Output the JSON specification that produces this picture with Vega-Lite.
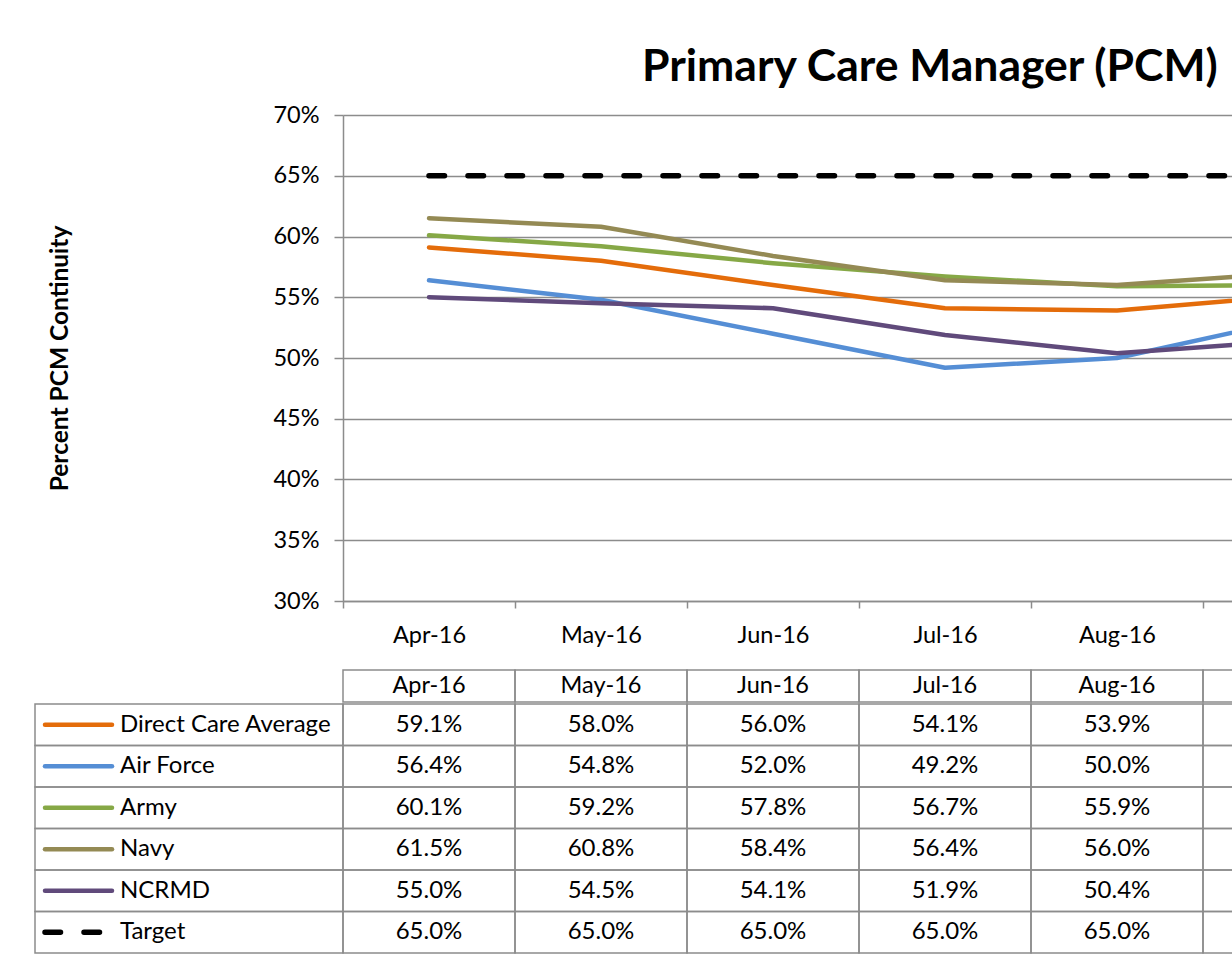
{
  "$schema": "https://vega.github.io/schema/vega-lite/v6.json",
  "background": "white",
  "padding": {"left": 34, "top": 44, "right": 10, "bottom": 10},
  "title": {"text": "Primary Care Manager (PCM)", "anchor": "start", "dx": 608, "fontSize": 44.5, "font": "Lato", "fontWeight": "bold", "color": "black", "offset": 13},
  "config": {"view": {"stroke": null}, "font": "Lato", "text": {"font": "Lato", "color": "black"}},
  "datasets": {
    "months": [{"month": "Apr-16"}, {"month": "May-16"}, {"month": "Jun-16"}, {"month": "Jul-16"}, {"month": "Aug-16"}, {"month": "Sep-16"}],
    "pcm": [
      {"series": "Direct Care Average", "month": "Apr-16", "value": 0.591},
      {"series": "Direct Care Average", "month": "May-16", "value": 0.580},
      {"series": "Direct Care Average", "month": "Jun-16", "value": 0.560},
      {"series": "Direct Care Average", "month": "Jul-16", "value": 0.541},
      {"series": "Direct Care Average", "month": "Aug-16", "value": 0.539},
      {"series": "Direct Care Average", "month": "Sep-16", "value": 0.551},
      {"series": "Air Force", "month": "Apr-16", "value": 0.564},
      {"series": "Air Force", "month": "May-16", "value": 0.548},
      {"series": "Air Force", "month": "Jun-16", "value": 0.520},
      {"series": "Air Force", "month": "Jul-16", "value": 0.492},
      {"series": "Air Force", "month": "Aug-16", "value": 0.500},
      {"series": "Air Force", "month": "Sep-16", "value": 0.531},
      {"series": "Army", "month": "Apr-16", "value": 0.601},
      {"series": "Army", "month": "May-16", "value": 0.592},
      {"series": "Army", "month": "Jun-16", "value": 0.578},
      {"series": "Army", "month": "Jul-16", "value": 0.567},
      {"series": "Army", "month": "Aug-16", "value": 0.559},
      {"series": "Army", "month": "Sep-16", "value": 0.560},
      {"series": "Navy", "month": "Apr-16", "value": 0.615},
      {"series": "Navy", "month": "May-16", "value": 0.608},
      {"series": "Navy", "month": "Jun-16", "value": 0.584},
      {"series": "Navy", "month": "Jul-16", "value": 0.564},
      {"series": "Navy", "month": "Aug-16", "value": 0.560},
      {"series": "Navy", "month": "Sep-16", "value": 0.570},
      {"series": "NCRMD", "month": "Apr-16", "value": 0.550},
      {"series": "NCRMD", "month": "May-16", "value": 0.545},
      {"series": "NCRMD", "month": "Jun-16", "value": 0.541},
      {"series": "NCRMD", "month": "Jul-16", "value": 0.519},
      {"series": "NCRMD", "month": "Aug-16", "value": 0.504},
      {"series": "NCRMD", "month": "Sep-16", "value": 0.514},
      {"series": "Target", "month": "Apr-16", "value": 0.65},
      {"series": "Target", "month": "May-16", "value": 0.65},
      {"series": "Target", "month": "Jun-16", "value": 0.65},
      {"series": "Target", "month": "Jul-16", "value": 0.65},
      {"series": "Target", "month": "Aug-16", "value": 0.65},
      {"series": "Target", "month": "Sep-16", "value": 0.65}
    ]
  },
  "spacing": 22,
  "bounds": "full",
  "vconcat": [
    {
      "spacing": 0,
      "bounds": "flush",
      "hconcat": [
        {"width": 308, "height": 486, "data": {"values": []}, "mark": "point"},
        {
          "width": 1032,
          "height": 486,
          "data": {"name": "pcm"},
          "encoding": {
            "x": {"field": "month", "type": "ordinal", "sort": ["Apr-16", "May-16", "Jun-16", "Jul-16", "Aug-16", "Sep-16"],
              "scale": {"type": "band", "paddingInner": 0, "paddingOuter": 0},
              "axis": {"title": null, "tickBand": "extent", "tickSize": 7, "tickColor": "#8c8c8c", "tickWidth": 1.5, "domainColor": "#8c8c8c", "domainWidth": 1.5, "labelFontSize": 23.5, "labelColor": "black", "labelPadding": 15, "labelAngle": 0, "grid": false, "labelFont": "Lato"}},
            "y": {"field": "value", "type": "quantitative", "scale": {"domain": [0.3, 0.7]},
              "axis": {"title": "Percent PCM Continuity", "titleFontSize": 24.5, "titleFont": "Lato", "titleFontWeight": "bold", "titleColor": "black", "titlePadding": 200,
                "values": [0.3, 0.35, 0.4, 0.45, 0.5, 0.55, 0.6, 0.65, 0.7], "format": ".0%", "grid": true, "gridColor": "#8c8c8c", "gridWidth": 1.5,
                "tickSize": 9, "tickColor": "#8c8c8c", "tickWidth": 1.5, "domainColor": "#8c8c8c", "domainWidth": 1.5, "labelFontSize": 23.5, "labelFont": "Lato", "labelColor": "black", "labelPadding": 15}}
          },
          "layer": [
            {
              "transform": [{"filter": "datum.series !== 'Target'"}],
              "mark": {"type": "line", "strokeWidth": 4.5, "strokeCap": "round", "strokeJoin": "round"},
              "encoding": {
                "color": {"field": "series", "type": "nominal", "legend": null,
                  "scale": {"domain": ["Direct Care Average", "Air Force", "Army", "Navy", "NCRMD"], "range": ["#E46C0A", "#558ED5", "#86A846", "#948A54", "#604A7B"]}}
              }
            },
            {
              "transform": [{"filter": "datum.series === 'Target'"}],
              "mark": {"type": "line", "strokeWidth": 5.5, "strokeCap": "round", "strokeDash": [15.5, 23.5], "color": "black"},
              "encoding": {}
            }
          ]
        }
      ]
    },
    {
      "spacing": 0,
      "bounds": "full",
      "vconcat": [
        {
          "spacing": 0,
          "bounds": "flush",
          "hconcat": [
            {"width": 308, "height": 32, "data": {"values": []}, "mark": "point"},
            {
              "width": 1032,
              "height": 32,
              "data": {"name": "months"},
              "encoding": {
                "x": {"field": "month", "type": "ordinal", "sort": ["Apr-16", "May-16", "Jun-16", "Jul-16", "Aug-16", "Sep-16"],
                  "scale": {"type": "band", "paddingInner": 0, "paddingOuter": 0}, "axis": null}
              },
              "layer": [
                {"mark": {"type": "rect", "fillOpacity": 0, "stroke": "#8c8c8c", "strokeWidth": 1.5}},
                {"mark": {"type": "text", "fontSize": 23.5, "color": "black"}, "encoding": {"text": {"field": "month"}}}
              ]
            }
          ]
        },
        {
          "spacing": 0,
          "bounds": "flush",
          "hconcat": [
            {
              "width": 308,
              "height": 249,
              "data": {"name": "pcm"},
              "transform": [{"filter": "datum.month === 'Apr-16'"}],
              "encoding": {
                "y": {"field": "series", "type": "nominal", "sort": ["Direct Care Average", "Air Force", "Army", "Navy", "NCRMD", "Target"],
                  "scale": {"type": "band", "paddingInner": 0, "paddingOuter": 0}, "axis": null}
              },
              "layer": [
                {"mark": {"type": "rect", "fillOpacity": 0, "stroke": "#8c8c8c", "strokeWidth": 1.5}},
                {
                  "transform": [{"filter": "datum.series !== 'Target'"}],
                  "mark": {"type": "point", "shape": "stroke", "size": 4489, "strokeWidth": 4.5, "strokeCap": "round", "filled": false, "opacity": 1, "xOffset": 5},
                  "encoding": {
                    "x": {"datum": "swatch", "type": "nominal", "scale": {"type": "band", "domain": ["swatch", "label", "p1", "p2"], "paddingInner": 0, "paddingOuter": 0}, "axis": null},
                    "color": {"field": "series", "type": "nominal", "legend": null,
                      "scale": {"domain": ["Direct Care Average", "Air Force", "Army", "Navy", "NCRMD"], "range": ["#E46C0A", "#558ED5", "#86A846", "#948A54", "#604A7B"]}}
                  }
                },
                {
                  "transform": [{"filter": "datum.series === 'Target'"}],
                  "mark": {"type": "point", "shape": "stroke", "size": 4489, "strokeWidth": 5.5, "strokeCap": "round", "strokeDash": [15.5, 23.5], "filled": false, "opacity": 1, "color": "black", "xOffset": 5},
                  "encoding": {
                    "x": {"datum": "swatch", "type": "nominal", "scale": {"type": "band", "domain": ["swatch", "label", "p1", "p2"], "paddingInner": 0, "paddingOuter": 0}, "axis": null}
                  }
                },
                {
                  "mark": {"type": "text", "align": "left", "fontSize": 24, "color": "black", "dx": 8},
                  "encoding": {
                    "x": {"datum": "label", "type": "nominal", "bandPosition": 0, "scale": {"type": "band", "domain": ["swatch", "label", "p1", "p2"], "paddingInner": 0, "paddingOuter": 0}, "axis": null},
                    "text": {"field": "series"}
                  }
                }
              ]
            },
            {
              "width": 1032,
              "height": 249,
              "data": {"name": "pcm"},
              "encoding": {
                "x": {"field": "month", "type": "ordinal", "sort": ["Apr-16", "May-16", "Jun-16", "Jul-16", "Aug-16", "Sep-16"],
                  "scale": {"type": "band", "paddingInner": 0, "paddingOuter": 0}, "axis": null},
                "y": {"field": "series", "type": "nominal", "sort": ["Direct Care Average", "Air Force", "Army", "Navy", "NCRMD", "Target"],
                  "scale": {"type": "band", "paddingInner": 0, "paddingOuter": 0}, "axis": null}
              },
              "layer": [
                {"mark": {"type": "rect", "fillOpacity": 0, "stroke": "#8c8c8c", "strokeWidth": 1.5}},
                {"mark": {"type": "text", "fontSize": 24, "color": "black"}, "encoding": {"text": {"field": "value", "type": "quantitative", "format": ".1%"}}}
              ]
            }
          ]
        }
      ]
    }
  ]
}
